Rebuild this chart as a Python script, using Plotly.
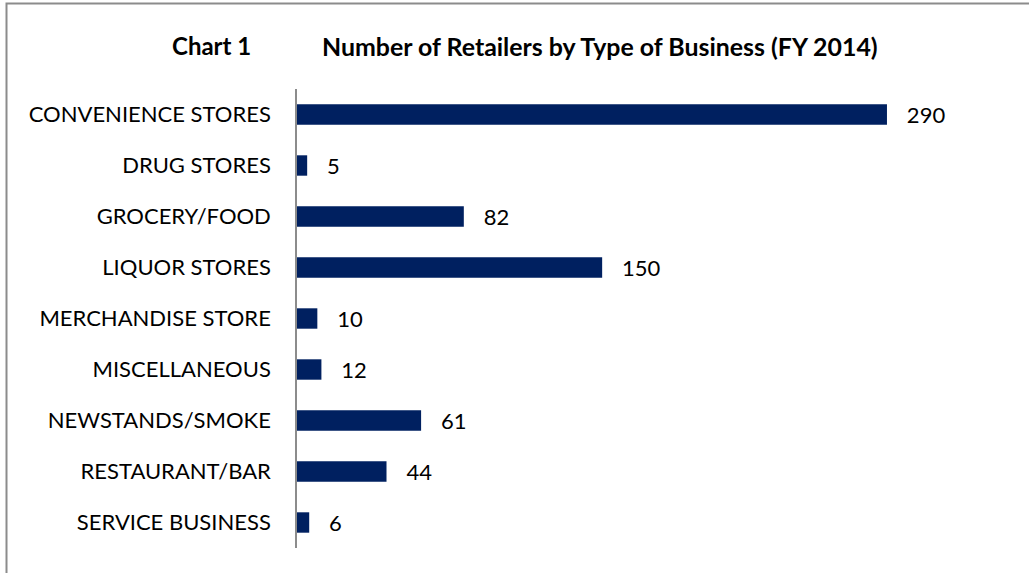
import plotly.graph_objects as go

categories = ["CONVENIENCE STORES", "DRUG STORES", "GROCERY/FOOD", "LIQUOR STORES",
              "MERCHANDISE STORE", "MISCELLANEOUS", "NEWSTANDS/SMOKE",
              "RESTAURANT/BAR", "SERVICE BUSINESS"]
retailers = [290, 5, 82, 150, 10, 12, 61, 44, 6]

W, H = 1029, 573
L, R, T, B = 297, 81, 89, 25
pw, ph = W - L - R, H - T - B

def px_x(p):
    return (p - L) / pw

def px_y(p):
    return (H - B - p) / ph

fig = go.Figure(go.Bar(
    x=retailers, y=categories, orientation="h",
    marker=dict(color="#002060", line=dict(width=0)),
    width=0.4,
    text=retailers, texttemplate="   %{x}", textposition="outside",
    textfont=dict(size=22, color="#000000"),
    constraintext="none",
    cliponaxis=False,
))

fig.update_layout(
    width=W, height=H,
    margin=dict(l=L, r=R, t=T, b=B),
    paper_bgcolor="white", plot_bgcolor="white",
    font=dict(family="Lato, Open Sans, sans-serif", size=22, color="#000000"),
    showlegend=False,
    annotations=[
        dict(text="<b>Chart 1</b>", x=px_x(170), y=px_y(46), xref="paper", yref="paper",
             xanchor="left", yanchor="middle", showarrow=False, font=dict(size=24)),
        dict(text="<b>Number of Retailers by Type of Business (FY 2014)</b>",
             x=px_x(320), y=px_y(46), xref="paper", yref="paper",
             xanchor="left", yanchor="middle", showarrow=False, font=dict(size=24.9)),
    ],
    shapes=[
        dict(type="rect", xref="paper", yref="paper",
             x0=px_x(6.5), x1=px_x(W + 20), y0=px_y(H + 20), y1=px_y(3.5),
             line=dict(color="#8c8c8c", width=2), fillcolor="rgba(0,0,0,0)", layer="below"),
    ],
)

fig.update_xaxes(range=[0, 320], visible=False, showgrid=False, zeroline=False)
fig.update_yaxes(autorange="reversed", showgrid=False, zeroline=False,
                 showline=True, linecolor="#8c8c8c", linewidth=1.5,
                 ticks="", ticklabelstandoff=20, tickfont=dict(size=22))

fig.write_html("out.html", config={"displayModeBar": False},
               post_script="document.body.style.margin='0';")
